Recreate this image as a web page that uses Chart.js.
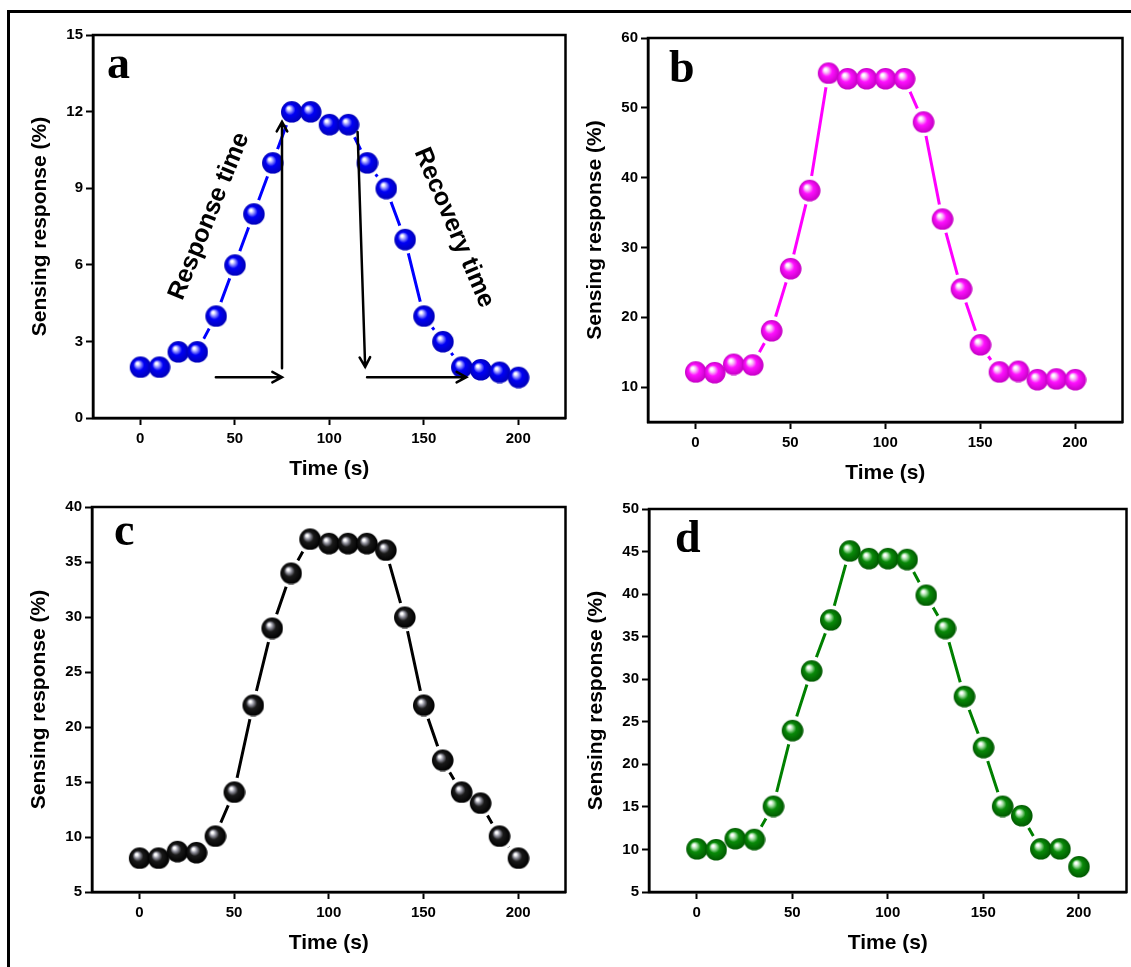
<!DOCTYPE html>
<html>
<head>
<meta charset="utf-8">
<title>Sensing response vs time</title>
<script src="https://cdn.jsdelivr.net/npm/chart.js@4.4.0/dist/chart.umd.min.js"></script>
<style>
  html, body { margin: 0; padding: 0; background: #fff; overflow: hidden; }
  body { width: 1131px; height: 967px; position: relative; }
  #frame { position: absolute; left: 7px; top: 10px; right: -10px; bottom: -10px;
           border-left: 3px solid #000; border-top: 3px solid #000; }
  canvas { position: absolute; }
</style>
</head>
<body>
<div id="frame"></div>
<canvas id="chartA"></canvas>
<canvas id="chartB"></canvas>
<canvas id="chartC"></canvas>
<canvas id="chartD"></canvas>
<script>
// time axis (s) shared by all four runs
const timeS = [0, 10, 20, 30, 40, 50, 60, 70, 80, 90, 100, 110, 120, 130, 140, 150, 160, 170, 180, 190, 200];

// sensing response (%) for each panel
const responseA = [2.0, 2.0, 2.6, 2.6, 4.0, 6.0, 8.0, 10.0, 12.0, 12.0, 11.5, 11.5, 10.0, 9.0, 7.0, 4.0, 3.0, 2.0, 1.9, 1.8, 1.6];
const responseB = [12.2, 12.1, 13.3, 13.2, 18.1, 27.0, 38.2, 55.0, 54.2, 54.2, 54.2, 54.2, 48.0, 34.1, 24.1, 16.1, 12.2, 12.3, 11.1, 11.2, 11.1];
const responseC = [8.1, 8.1, 8.7, 8.6, 10.1, 14.1, 22.0, 29.0, 34.0, 37.1, 36.7, 36.7, 36.7, 36.1, 30.0, 22.0, 17.0, 14.1, 13.1, 10.1, 8.1];
const responseD = [10.1, 10.0, 11.3, 11.2, 15.1, 24.0, 31.0, 37.0, 45.1, 44.2, 44.2, 44.1, 39.9, 36.0, 28.0, 22.0, 15.1, 14.0, 10.1, 10.1, 8.0];

// tick labels
const xTicks = [0, 50, 100, 150, 200];
const yTicksA = [0, 3, 6, 9, 12, 15];
const yTicksB = [10, 20, 30, 40, 50, 60];
const yTicksC = [5, 10, 15, 20, 25, 30, 35, 40];
const yTicksD = [5, 10, 15, 20, 25, 30, 35, 40, 45, 50];

const SANS = '"Liberation Sans", Arial, Helvetica, sans-serif';
const SERIF = '"Liberation Serif", "Times New Roman", serif';

// glossy ball marker
function ball(r, light, base, dark) {
  const c = document.createElement('canvas');
  c.width = c.height = 2 * r + 2;
  const g = c.getContext('2d');
  const cx = r + 1, cy = r + 1;
  const grad = g.createRadialGradient(cx - r * 0.32, cy - r * 0.38, 0, cx, cy, r);
  grad.addColorStop(0, '#ffffff');
  grad.addColorStop(0.1, '#ffffff');
  grad.addColorStop(0.26, light);
  grad.addColorStop(0.5, base);
  grad.addColorStop(1, dark);
  g.fillStyle = grad;
  g.beginPath();
  g.arc(cx, cy, r, 0, Math.PI * 2);
  g.fill();
  return c;
}

// frame round the plot area + panel letter
const panelBox = {
  id: 'panelBox',
  beforeDatasetsDraw(chart) {
    const { ctx, chartArea: a } = chart;
    ctx.save();
    ctx.strokeStyle = '#000';
    ctx.lineWidth = 2.5;
    ctx.strokeRect(a.left, a.top, a.right - a.left, a.bottom - a.top);
    ctx.restore();
  },
  afterDatasetsDraw(chart, args, opts) {
    if (!opts.letter) return;
    const { ctx, chartArea: a } = chart;
    ctx.save();
    ctx.fillStyle = '#000';
    ctx.font = 'bold 46px ' + SERIF;
    ctx.textBaseline = 'alphabetic';
    ctx.fillText(opts.letter, a.left + opts.at[0], a.top + opts.at[1]);
    ctx.restore();
  }
};

// response / recovery arrows for panel a
const arrowsA = [[40, 1.6, 75, 1.6], [75, 1.95, 75, 11.6], [115, 11.2, 119, 2.0], [120, 1.6, 172.5, 1.6]];
const notesA = [
  { text: 'Response time', x: 36.5, y: 7.9, angle: -68 },
  { text: 'Recovery time', x: 166, y: 7.45, angle: 67 }
];

const timeArrows = {
  id: 'timeArrows',
  afterDatasetsDraw(chart) {
    const { ctx, scales: { x, y } } = chart;
    ctx.save();
    ctx.strokeStyle = '#000';
    ctx.lineWidth = 2.5;
    ctx.lineCap = 'round';
    arrowsA.forEach(([x1, y1, x2, y2]) => {
      const ax = x.getPixelForValue(x1), ay = y.getPixelForValue(y1);
      const bx = x.getPixelForValue(x2), by = y.getPixelForValue(y2);
      const ang = Math.atan2(by - ay, bx - ax);
      ctx.beginPath();
      ctx.moveTo(ax, ay);
      ctx.lineTo(bx, by);
      ctx.moveTo(bx - 11 * Math.cos(ang - 0.5), by - 11 * Math.sin(ang - 0.5));
      ctx.lineTo(bx, by);
      ctx.lineTo(bx - 11 * Math.cos(ang + 0.5), by - 11 * Math.sin(ang + 0.5));
      ctx.stroke();
    });
    ctx.fillStyle = '#000';
    ctx.font = 'bold 25px ' + SANS;
    ctx.textAlign = 'center';
    ctx.textBaseline = 'middle';
    notesA.forEach(n => {
      ctx.save();
      ctx.translate(x.getPixelForValue(n.x), y.getPixelForValue(n.y));
      ctx.rotate(n.angle * Math.PI / 180);
      ctx.fillText(n.text, 0, 0);
      ctx.restore();
    });
    ctx.restore();
  }
};

function makePanel(p) {
  const [L, T, R, B] = p.box;
  // chart.js keeps ~10px extra on the right beyond layout padding, so the canvas is widened by that
  const padL = 90, padT = 30, padR = 5, extraR = 10, padB = 70;
  const cv = document.getElementById(p.id);
  cv.width = R - L + padL + padR + extraR;
  cv.height = B - T + padT + padB;
  cv.style.left = (L - padL) + 'px';
  cv.style.top = (T - padT) + 'px';

  const pts = timeS.map((t, i) => ({ x: t, y: p.values[i] }));
  const tickFont = { family: SANS, size: 15, weight: 'bold' };
  const titleFont = { family: SANS, size: 21, weight: 'bold' };
  const axisCommon = {
    grid: { drawOnChartArea: false, drawTicks: true, tickLength: 7, tickWidth: 2, tickColor: '#000' },
    border: { display: true, color: '#000', width: 2.5 }
  };

  new Chart(cv, {
    type: 'line',
    data: {
      datasets: [
        { data: pts, order: 1, showLine: false, pointStyle: p.ball, pointRadius: 11, pointHoverRadius: 11 },
        { data: pts, order: 2, showLine: false, pointStyle: 'circle', pointRadius: 14.5,
          pointBackgroundColor: '#fff', pointBorderWidth: 0 },
        { data: pts, order: 3, borderColor: p.color, borderWidth: 3, pointRadius: 0, tension: 0 }
      ]
    },
    options: {
      responsive: false,
      animation: false,
      events: [],
      layout: { padding: { left: 0, top: padT, right: padR, bottom: 0 } },
      plugins: {
        legend: { display: false },
        tooltip: { enabled: false },
        panelBox: { letter: p.letter, at: p.letterAt }
      },
      scales: {
        x: {
          ...axisCommon,
          type: 'linear', min: -25, max: 225,
          afterBuildTicks: s => { s.ticks = xTicks.map(v => ({ value: v })); },
          afterFit: s => { s.height = padB; s.paddingLeft = 0; s.paddingRight = 0; },
          ticks: { color: '#000', font: tickFont, padding: 5, maxRotation: 0 },
          title: { display: true, text: 'Time (s)', color: '#000', font: titleFont, padding: { top: 0, bottom: 6 } }
        },
        y: {
          ...axisCommon,
          type: 'linear', min: p.yMin, max: p.yMax,
          afterBuildTicks: s => { s.ticks = p.yTicks.map(v => ({ value: v })); },
          afterFit: s => { s.width = padL; s.paddingTop = 0; s.paddingBottom = 0; },
          ticks: { color: '#000', font: tickFont, padding: 3 },
          title: { display: true, text: 'Sensing response (%)', color: '#000', font: titleFont, padding: { top: 25, bottom: 0 } }
        }
      }
    },
    plugins: p.extra ? [panelBox, p.extra] : [panelBox]
  });
}

makePanel({ id: 'chartA', letter: 'a', letterAt: [14, 43], box: [93, 35, 565, 418],
  values: responseA, yMin: 0, yMax: 15, yTicks: yTicksA, color: '#0000ff',
  ball: ball(10.8, '#9a9aff', '#0000f5', '#0000b8'), extra: timeArrows });
makePanel({ id: 'chartB', letter: 'b', letterAt: [21, 44], box: [648, 38, 1122, 422],
  values: responseB, yMin: 5, yMax: 60, yTicks: yTicksB, color: '#ff00ff',
  ball: ball(10.8, '#f7b8f7', '#ff10ff', '#c400c4') });
makePanel({ id: 'chartC', letter: 'c', letterAt: [22, 38], box: [92, 507, 565, 892],
  values: responseC, yMin: 5, yMax: 40, yTicks: yTicksC, color: '#000000',
  ball: ball(10.8, '#9a9aa6', '#1a1a1a', '#000000') });
makePanel({ id: 'chartD', letter: 'd', letterAt: [26, 43], box: [649, 509, 1126, 892],
  values: responseD, yMin: 5, yMax: 50, yTicks: yTicksD, color: '#008000',
  ball: ball(10.8, '#a6dfa6', '#098a09', '#005800') });
</script>
</body>
</html>
